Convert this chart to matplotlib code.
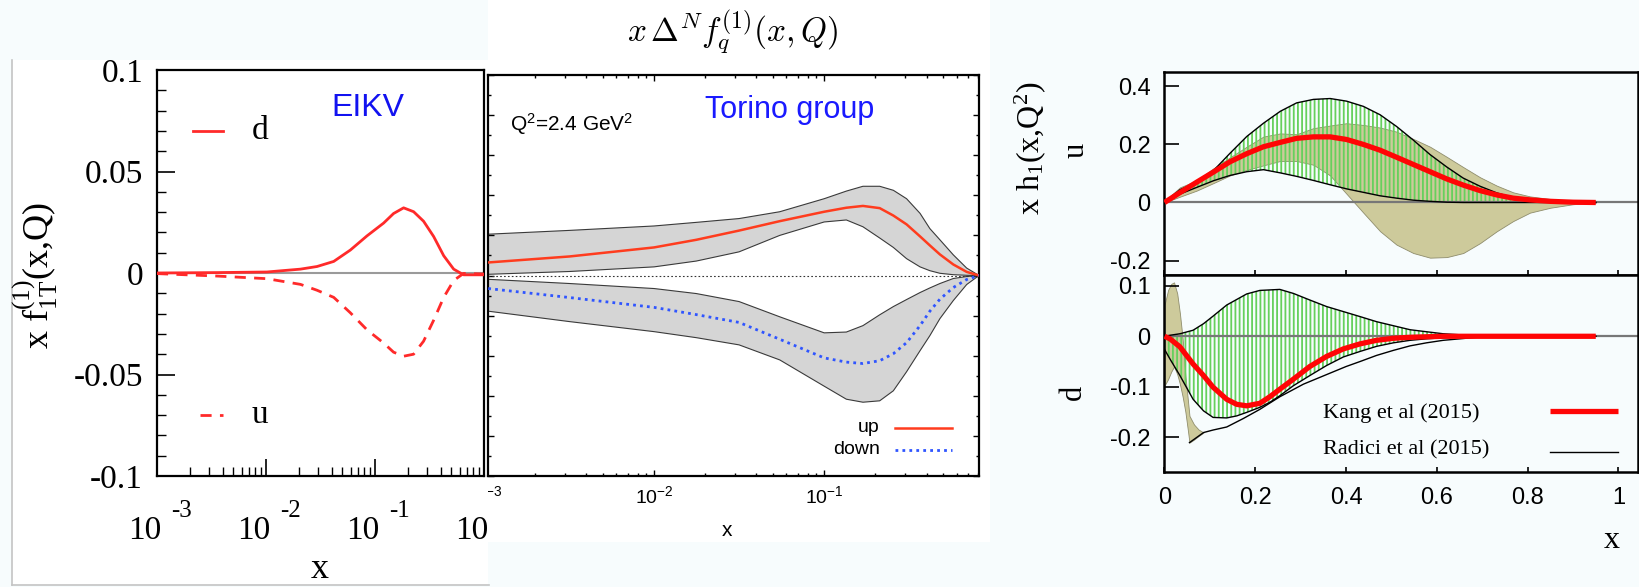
import numpy as np
import matplotlib
matplotlib.use('Agg')
import matplotlib.pyplot as plt
from matplotlib.patches import Rectangle
from matplotlib.lines import Line2D
from matplotlib.transforms import (Bbox, TransformedBbox, blended_transform_factory,
                                   offset_copy)
from matplotlib.ticker import (FixedLocator, FixedFormatter, NullFormatter,
                               LogLocator, MultipleLocator)

# ---------------- data ----------------
# EIKV panel (log x)
eikv_x = [0.001, 0.00355, 0.0102, 0.0207, 0.0294, 0.0418, 0.0594, 0.0845, 0.120,
          0.148, 0.183, 0.226, 0.279, 0.345, 0.427, 0.527, 0.650, 1.0]
eikv_d = [0.0, 0.0002, 0.0005, 0.0019, 0.0032, 0.0057, 0.0113, 0.0183, 0.0246,
          0.0293, 0.0321, 0.0302, 0.0255, 0.0180, 0.0085, 0.0019, -0.0009, -0.0009]
eikv_u = [-0.0003, -0.0015, -0.0028, -0.0056, -0.0085, -0.0120, -0.0196, -0.0280,
          -0.0345, -0.0390, -0.0410, -0.0400, -0.0336, -0.0233, -0.0120, -0.0037,
          -0.0002, -0.0005]
eikv_yticks = [-0.1, -0.05, 0, 0.05, 0.1]
eikv_yticklabels = ['-0.1', '-0.05', '0', '0.05', '0.1']
eikv_xticks = [1e-3, 1e-2, 1e-1, 1.0]
eikv_xtick_exponents = ['-3', '-2', '-1', '0']

# Torino panel (log x)
tor_x = [0.00106, 0.00319, 0.0100, 0.0177, 0.0316, 0.0548, 0.100, 0.135, 0.169,
         0.212, 0.255, 0.305, 0.366, 0.418, 0.479, 0.574, 0.688, 0.813]
tor_up = [0.0065, 0.0095, 0.0140, 0.0178, 0.0224, 0.0271, 0.0318, 0.0338, 0.0347,
          0.0336, 0.0299, 0.0255, 0.0195, 0.0150, 0.0105, 0.0055, 0.0018, 0.0]
tor_up_hi = [0.0206, 0.0225, 0.0247, 0.0265, 0.0284, 0.0318, 0.0383, 0.0421, 0.0445,
             0.0445, 0.0425, 0.0383, 0.0310, 0.0234, 0.0178, 0.0103, 0.0037, 0.0]
tor_up_lo = [0.0006, 0.0020, 0.0043, 0.0072, 0.0118, 0.0200, 0.0267, 0.0277, 0.0243,
             0.0187, 0.0140, 0.0084, 0.0043, 0.0024, 0.0011, 0.0004, 0.0001, 0.0]
tor_down = [-0.0065, -0.0110, -0.0159, -0.0195, -0.0234, -0.0318, -0.0411, -0.0432,
            -0.0439, -0.0425, -0.0390, -0.0335, -0.0250, -0.0178, -0.0118, -0.0060,
            -0.0020, 0.0]
tor_down_hi = [-0.0019, -0.0040, -0.0065, -0.0090, -0.0130, -0.0206, -0.0286, -0.0282,
               -0.0250, -0.0196, -0.0155, -0.0120, -0.0085, -0.0062, -0.0040, -0.0015,
               -0.0005, 0.0]
tor_down_lo = [-0.0178, -0.0230, -0.0280, -0.0310, -0.0346, -0.0421, -0.0552, -0.0617,
               -0.0632, -0.0625, -0.0575, -0.0480, -0.0375, -0.0300, -0.0215, -0.0125,
               -0.0045, 0.0]
tor_xticks = [1e-3, 1e-2, 1e-1]
tor_xticklabels = [r'$\mathsf{10^{-3}}$', r'$\mathsf{10^{-2}}$', r'$\mathsf{10^{-1}}$']

# Right panel, u quark
hu_x = [0, 0.034, 0.071, 0.108, 0.144, 0.181, 0.218, 0.255, 0.291, 0.328, 0.365,
        0.401, 0.438, 0.475, 0.511, 0.548, 0.585, 0.622, 0.658, 0.695, 0.732, 0.768,
        0.805, 0.85, 0.90, 0.95]
kang_u = [0, 0.034, 0.070, 0.105, 0.140, 0.168, 0.192, 0.207, 0.221, 0.226, 0.226,
          0.217, 0.200, 0.180, 0.156, 0.131, 0.106, 0.081, 0.060, 0.041, 0.026, 0.015,
          0.009, 0.004, 0.001, 0.0]
kang_u_hi = [0.005, 0.052, 0.076, 0.118, 0.155, 0.192, 0.227, 0.238, 0.235, 0.256,
             0.265, 0.273, 0.267, 0.258, 0.244, 0.219, 0.192, 0.157, 0.122, 0.087,
             0.058, 0.035, 0.021, 0.012, 0.004, 0.0]
kang_u_lo = [0, 0.020, 0.041, 0.067, 0.093, 0.112, 0.128, 0.143, 0.143, 0.130, 0.093,
             0.030, -0.035, -0.099, -0.145, -0.174, -0.190, -0.188, -0.174, -0.140,
             -0.099, -0.064, -0.035, -0.018, -0.006, 0.0]
radici_u_hi = [0, 0.044, 0.070, 0.110, 0.169, 0.227, 0.273, 0.314, 0.343, 0.355, 0.358,
               0.349, 0.331, 0.302, 0.262, 0.215, 0.165, 0.122, 0.084, 0.056, 0.033,
               0.017, 0.009, 0.004, 0.001, 0.0]
radici_u_lo = [0, 0.029, 0.052, 0.075, 0.093, 0.106, 0.113, 0.102, 0.090, 0.076, 0.061,
               0.047, 0.035, 0.023, 0.015, 0.008, 0.004, 0.001, 0, 0, 0, 0, 0, 0, 0, 0]

# Right panel, d quark
hd_x = [0, 0.012, 0.034, 0.063, 0.086, 0.107, 0.137, 0.159, 0.181, 0.21, 0.232, 0.254,
        0.284, 0.32, 0.357, 0.394, 0.431, 0.467, 0.504, 0.541, 0.577, 0.614, 0.651,
        0.688, 0.75, 0.85, 0.95]
kang_d = [0, -0.005, -0.021, -0.055, -0.078, -0.101, -0.125, -0.135, -0.138, -0.133,
          -0.120, -0.105, -0.085, -0.060, -0.040, -0.025, -0.015, -0.008, -0.004,
          -0.002, -0.001, 0, 0, 0, 0, 0, 0]
radici_d_hi = [0, 0.002, 0.005, 0.012, 0.025, 0.040, 0.062, 0.073, 0.084, 0.091, 0.092,
               0.093, 0.085, 0.072, 0.059, 0.049, 0.039, 0.029, 0.021, 0.013, 0.009,
               0.005, 0.003, 0.001, 0, 0, 0]
radici_d_lo = [-0.026, -0.045, -0.078, -0.125, -0.148, -0.161, -0.162, -0.158, -0.151,
               -0.141, -0.131, -0.118, -0.098, -0.078, -0.058, -0.041, -0.030, -0.020,
               -0.013, -0.008, -0.005, -0.003, -0.001, 0, 0, 0, 0]
kdl_x = [0.055, 0.086, 0.107, 0.137, 0.174, 0.21, 0.254, 0.306, 0.357, 0.40, 0.431,
         0.467, 0.504, 0.541, 0.577, 0.614, 0.651, 0.688, 0.75, 0.80]
kdl_y = [-0.211, -0.191, -0.186, -0.180, -0.163, -0.145, -0.120, -0.095, -0.076,
         -0.060, -0.050, -0.038, -0.028, -0.019, -0.013, -0.008, -0.005, -0.002,
         -0.001, 0.0]
kd_x = [0, 0.008, 0.015, 0.021, 0.028, 0.034, 0.040, 0.046, 0.052, 0.055, 0.065,
        0.075, 0.086]
kd_hi = [0.062, 0.092, 0.104, 0.107, 0.085, 0.045, -0.005, -0.078, -0.131, -0.158,
         -0.175, -0.185, -0.191]
kd_lo = [-0.098, -0.085, -0.070, -0.060, -0.075, -0.095, -0.120, -0.150, -0.190,
         -0.211, -0.205, -0.198, -0.191]

h_xticks = [0, 0.2, 0.4, 0.6, 0.8, 1.0]
h_xticklabels = ['0', '0.2', '0.4', '0.6', '0.8', '1']
hu_yticks = [-0.2, 0, 0.2, 0.4]
hu_yticklabels = ['-0.2', '0', '0.2', '0.4']
hd_yticks = [-0.2, -0.1, 0, 0.1]
hd_yticklabels = ['-0.2', '-0.1', '0', '0.1']

# ---------------- style ----------------
W, H = 1640, 587
BG = '#f7fcfd'
SERIF = 'Liberation Serif'
SANS = 'Liberation Sans'
plt.rcParams['mathtext.fontset'] = 'custom'
plt.rcParams['mathtext.rm'] = SERIF
plt.rcParams['mathtext.it'] = SERIF + ':italic'
plt.rcParams['mathtext.bf'] = SERIF + ':bold'
plt.rcParams['mathtext.sf'] = SANS
plt.rcParams['hatch.linewidth'] = 1.3
plt.rcParams['hatch.color'] = '#66d05c'

fig = plt.figure(figsize=(W / 100, H / 100), dpi=100, facecolor=BG)


def rect(l, t, r, b):
    return [l / W, 1 - b / H, (r - l) / W, (b - t) / H]


def ftext(x, y, s, **kw):
    return fig.text(x / W, 1 - y / H, s, **kw)


def fline(x1, x2, y, **kw):
    fig.add_artist(Line2D([x1 / W, x2 / W], [1 - y / H, 1 - y / H],
                          transform=fig.transFigure, **kw))


# background panels
fig.add_artist(Rectangle((12 / W, 1 - 585 / H), (488 - 12) / W, (585 - 60) / H,
                         transform=fig.transFigure, facecolor='white',
                         edgecolor='none', zorder=-5))
fig.add_artist(Rectangle((488 / W, 1 - 542 / H), (990 - 488) / W, 542 / H,
                         transform=fig.transFigure, facecolor='white',
                         edgecolor='none', zorder=-5))
fig.add_artist(Line2D([12 / W, 12 / W], [1 - 60 / H, 1 - 585 / H],
                      transform=fig.transFigure, color='#c4c4c4', lw=1.2, zorder=-4))
fig.add_artist(Line2D([12 / W, 489 / W], [1 - 584.5 / H, 1 - 584.5 / H],
                      transform=fig.transFigure, color='#c4c4c4', lw=1.2, zorder=-4))

RED1 = '#ff2a2a'

# ---------------- EIKV panel ----------------
ax1 = fig.add_axes(rect(157, 70, 484, 476))
ax1.set_facecolor('white')
ax1.set_xscale('log')
ax1.set_xlim(1e-3, 1.0)
ax1.set_ylim(-0.1, 0.1)
ax1.axhline(0, color='#9a9a9a', lw=1.5, zorder=1)
ax1.plot(eikv_x, eikv_d, color=RED1, lw=2.0, zorder=3)
ax1.plot(eikv_x, eikv_u, color=RED1, lw=2.0, ls=(0, (4, 3)), zorder=3)
ax1.yaxis.set_major_locator(FixedLocator(eikv_yticks))
ax1.yaxis.set_major_formatter(FixedFormatter(eikv_yticklabels))
ax1.yaxis.set_minor_locator(MultipleLocator(0.01))
ax1.xaxis.set_major_locator(FixedLocator(eikv_xticks))
ax1.xaxis.set_major_formatter(NullFormatter())
ax1.xaxis.set_minor_locator(LogLocator(base=10, subs=np.arange(2, 10)))
ax1.xaxis.set_minor_formatter(NullFormatter())
ax1.tick_params(axis='y', which='major', direction='in', length=13, width=1.2,
                labelsize=24, pad=10, labelfontfamily=SERIF)
ax1.tick_params(axis='y', which='minor', direction='in', length=6.5, width=1.0)
ax1.tick_params(axis='x', which='major', direction='in', length=12, width=1.2)
ax1.tick_params(axis='x', which='minor', direction='in', length=6.5, width=1.0)
for s in ax1.spines.values():
    s.set_linewidth(1.6)

clip1 = TransformedBbox(Bbox.from_extents(0, 0, 488 / W, 1), fig.transFigure)
clip2 = TransformedBbox(Bbox.from_extents(488 / W, 0, 990 / W, 1), fig.transFigure)

# EIKV x tick labels: "10" with a detached, raised exponent
tr1 = blended_transform_factory(ax1.transData, fig.transFigure)
for xv, ex in zip(eikv_xticks, eikv_xtick_exponents):
    t = fig.text(xv, 1 - 531 / H, '10', ha='center', va='center', fontsize=24,
                 family=SERIF,
                 transform=offset_copy(tr1, fig=fig, x=-12 * 0.72, y=0, units='points'))
    t.set_clip_box(clip1)
    e = fig.text(xv, 1 - 511 / H, ex, ha='left', va='center', fontsize=18,
                 family=SERIF,
                 transform=offset_copy(tr1, fig=fig, x=14 * 0.72, y=0, units='points'))
    e.set_clip_box(clip1)

ftext(35, 275, r'x f$_{\mathrm{1T}}^{(1)}$(x,Q)', rotation=90, ha='center',
      va='center', fontsize=26, family=SERIF)
ftext(320, 586, 'x', ha='center', va='bottom', fontsize=26, family=SERIF)
ftext(368, 108, 'EIKV', ha='center', va='center', fontsize=23, family=SANS,
      color='#1212f0')
fline(193, 223, 131, color=RED1, lw=2.0)
ftext(252, 131, 'd', ha='left', va='center', fontsize=24, family=SERIF)
fline(200, 223, 415, color=RED1, lw=2.0, ls=(0, (4, 3)))
ftext(252, 415, 'u', ha='left', va='center', fontsize=24, family=SERIF)

# ---------------- Torino panel ----------------
RED2 = '#ff3c1e'
BLUE2 = '#2f55ff'
ax2 = fig.add_axes(rect(488, 75, 979, 476))
ax2.set_facecolor('white')
ax2.set_xscale('log')
ax2.set_xlim(10 ** -2.976, 10 ** -0.09)
ax2.set_ylim(-0.1, 0.1)
ax2.fill_between(tor_x, tor_up_lo, tor_up_hi, facecolor='#d5d5d5', edgecolor='none',
                 zorder=1)
ax2.fill_between(tor_x, tor_down_lo, tor_down_hi, facecolor='#d5d5d5',
                 edgecolor='none', zorder=1)
for yy in (tor_up_lo, tor_up_hi, tor_down_lo, tor_down_hi):
    ax2.plot(tor_x, yy, color='#3a3a3a', lw=0.8, zorder=2)
ax2.axhline(0, color='#333333', lw=0.8, ls=(0, (1.5, 2)), zorder=2)
ax2.plot(tor_x, tor_up, color=RED2, lw=1.8, zorder=3)
ax2.plot(tor_x, tor_down, color=BLUE2, lw=2.0, ls=(0, (1, 1.5)), zorder=3)
ax2.yaxis.set_major_locator(MultipleLocator(0.02))
ax2.yaxis.set_minor_locator(MultipleLocator(0.01))
ax2.yaxis.set_major_formatter(NullFormatter())
ax2.xaxis.set_major_locator(FixedLocator(tor_xticks))
ax2.xaxis.set_major_formatter(NullFormatter())
ax2.xaxis.set_minor_locator(LogLocator(base=10, subs=np.arange(2, 10)))
ax2.xaxis.set_minor_formatter(NullFormatter())
ax2.tick_params(which='both', direction='in', top=True, right=True, width=1.0)
ax2.tick_params(which='major', length=4.5)
ax2.tick_params(which='minor', length=2.2)
for s in ax2.spines.values():
    s.set_linewidth(1.6)

tr2 = blended_transform_factory(ax2.transData, fig.transFigure)
for xv, lab in zip(tor_xticks, tor_xticklabels):
    t = fig.text(xv, 1 - 496 / H, lab, ha='center', va='center', fontsize=14,
                 transform=tr2)
    t.set_clip_box(clip2)

ftext(733, 32, r'$x\,\Delta^N f_q^{(1)}(x,Q)$', ha='center', va='center',
      fontsize=24, math_fontfamily='cm')
ftext(727, 530, 'x', ha='center', va='center', fontsize=15, family=SANS)
ftext(510, 124, r'Q$^{\mathsf{2}}$=2.4 GeV$^{\mathsf{2}}$', ha='left', va='center',
      fontsize=15, family=SANS)
ftext(790, 110, 'Torino group', ha='center', va='center', fontsize=22, family=SANS,
      color='#1a1aff')
ftext(880, 428, 'up', ha='right', va='center', fontsize=14, family=SANS)
fline(895, 952, 428, color=RED2, lw=1.8)
ftext(880, 449, 'down', ha='right', va='center', fontsize=14, family=SANS)
fline(895, 952, 450, color=BLUE2, lw=2.0, ls=(0, (1, 1.5)))

# ---------------- right panels ----------------
KHAKI = '#cdca9b'
RED3 = '#ff0505'
GREEN = '#66d05c'
ax3 = fig.add_axes(rect(1164.5, 72.4, 1638, 274.8))
ax4 = fig.add_axes(rect(1164.5, 274.8, 1638, 471.6))
for ax in (ax3, ax4):
    ax.set_facecolor(BG)
    ax.set_xlim(0, 1.043)
    ax.xaxis.set_major_locator(FixedLocator(h_xticks))
    ax.tick_params(axis='x', direction='in', length=3.5, width=1.2, top=False)
    ax.tick_params(axis='y', direction='in', length=11, width=1.2, right=False,
                   labelsize=17, pad=10, labelfontfamily=SANS)
    for s in ax.spines.values():
        s.set_linewidth(1.8)
ax3.set_ylim(-0.249, 0.448)
ax4.set_ylim(-0.2685, 0.122)
ax3.yaxis.set_major_locator(FixedLocator(hu_yticks))
ax3.yaxis.set_major_formatter(FixedFormatter(hu_yticklabels))
ax4.yaxis.set_major_locator(FixedLocator(hd_yticks))
ax4.yaxis.set_major_formatter(FixedFormatter(hd_yticklabels))
ax3.xaxis.set_major_formatter(NullFormatter())
ax4.xaxis.set_major_formatter(FixedFormatter(h_xticklabels))
ax4.tick_params(axis='x', labelsize=17, pad=11, labelfontfamily=SANS)

# u
ax3.fill_between(hu_x, kang_u_lo, kang_u_hi, facecolor=KHAKI, edgecolor='#8f8d6c',
                 lw=0.6, zorder=1)
ax3.fill_between(hu_x, radici_u_lo, radici_u_hi, facecolor='none', edgecolor=GREEN,
                 hatch='||||', lw=0, zorder=2)
ax3.axhline(0, color='#777777', lw=1.6, zorder=2.5)
ax3.plot(hu_x, radici_u_hi, color='black', lw=1.0, zorder=3)
ax3.plot(hu_x, radici_u_lo, color='black', lw=1.0, zorder=3)
ax3.plot(hu_x, kang_u, color=RED3, lw=3.8, zorder=4, solid_capstyle='butt')

# d
ax4.fill_between(kd_x, kd_lo, kd_hi, facecolor=KHAKI, edgecolor='#8f8d6c', lw=0.6,
                 zorder=1)
ax4.fill_between(hd_x, radici_d_lo, radici_d_hi, facecolor='none', edgecolor=GREEN,
                 hatch='||||', lw=0, zorder=2)
ax4.axhline(0, color='#777777', lw=1.6, zorder=2.5)
ax4.plot(hd_x, radici_d_hi, color='black', lw=1.0, zorder=3)
ax4.plot(hd_x, radici_d_lo, color='black', lw=1.0, zorder=3)
ax4.plot(kdl_x, kdl_y, color='black', lw=1.0, zorder=3)
ax4.plot(hd_x, kang_d, color=RED3, lw=3.8, zorder=4, solid_capstyle='butt')

ftext(1030, 148, r'x h$_1$(x,Q$^2$)', rotation=90, ha='center', va='center',
      fontsize=23, family=SERIF)
ftext(1076, 150, 'u', rotation=90, ha='center', va='center', fontsize=22, family=SERIF)
ftext(1073, 392, 'd', rotation=90, ha='center', va='center', fontsize=22, family=SERIF)
ftext(1612, 541, 'x', ha='center', va='center', fontsize=23, family=SERIF)
ftext(1323, 413, 'Kang et al (2015)', ha='left', va='center', fontsize=16,
      family=SERIF)
ftext(1323, 450, 'Radici et al (2015)', ha='left', va='center', fontsize=16,
      family=SERIF)
fline(1550, 1618, 411, color=RED3, lw=3.8, solid_capstyle='butt')
fline(1550, 1618, 452, color='black', lw=1.0)

fig.savefig('out.png', dpi=100, facecolor=BG)
